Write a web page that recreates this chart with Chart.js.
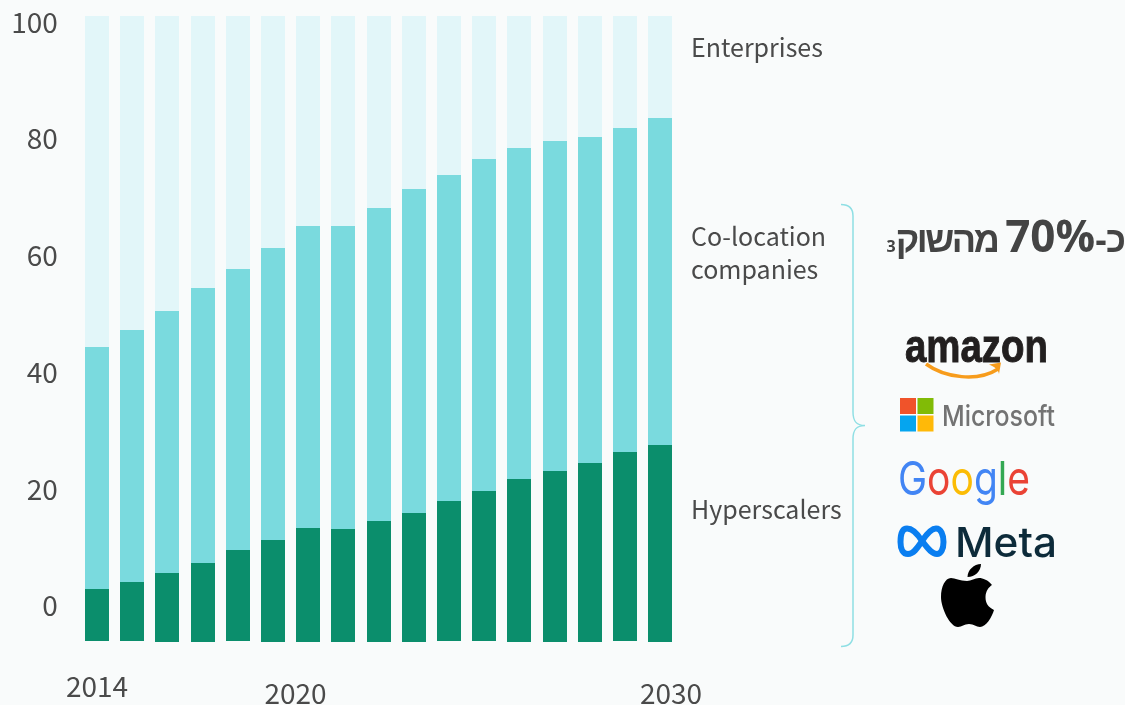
<!DOCTYPE html>
<html lang="en">
<head>
<meta charset="utf-8">
<script src="https://cdn.jsdelivr.net/npm/chart.js@4"></script>
<style>
html,body{margin:0;padding:0;background:#f9fbfb;width:1125px;height:705px;overflow:hidden}
#wrap{position:relative;width:1125px;height:705px;overflow:hidden}
canvas{position:absolute;left:0;top:0}
.lab{position:absolute;left:691px;font:400 25px/33px "Noto Sans CJK SC","Noto Sans",sans-serif;color:#4a4a4a;white-space:nowrap}
#heb{position:absolute;right:0;top:205px;font:700 44px/60px "Open Sans",sans-serif;color:#444;white-space:nowrap;direction:rtl}
#heb .he{font-family:"Liberation Sans",sans-serif;font-size:36px;letter-spacing:-2.4px}
#heb sub{font-family:"Open Sans",sans-serif;font-size:16px;line-height:0;vertical-align:0}
svg{position:absolute;left:0;top:0}
</style>
</head>
<body>
<div id="wrap">
<canvas id="c" width="1125" height="705"></canvas>
<svg width="1125" height="705" viewBox="0 0 1125 705">
  <path d="M841 204.500 C849 204.500 853 209 853 216 L853 412 C853 421 856 425.500 865 425.500 C856 425.500 853 430 853 439 L853 635 C853 642 849 646.500 841 646.500" fill="none" stroke="#8fdfe4" stroke-width="1.5"/>
  <text x="905" y="362" font-family="Liberation Sans" font-weight="700" font-size="47" fill="#221f1f" stroke="#221f1f" stroke-width="1" textLength="143" lengthAdjust="spacingAndGlyphs">amazon</text>
  <path d="M926 364 C945 378 978 382 998 369" fill="none" stroke="#f79c1c" stroke-width="3.5"/>
  <path d="M989 364.500 L1001 362.500 L999 374 C998.500 370 995 367 989 364.500Z" fill="#f79c1c"/>
  <rect x="900" y="398" width="16" height="16" fill="#f0532a"/><rect x="917.500" y="398" width="16" height="16" fill="#81bb06"/>
  <rect x="900" y="415.500" width="16" height="16" fill="#05a5ef"/><rect x="917.500" y="415.500" width="16" height="16" fill="#ffb908"/>
  <text x="942" y="426" font-family="Inter" font-weight="500" font-size="29" fill="#737373" textLength="113" lengthAdjust="spacingAndGlyphs">Microsoft</text>
  <text x="898" y="495" font-family="Inter" font-weight="400" font-size="47" textLength="132" lengthAdjust="spacingAndGlyphs"><tspan fill="#4285f4">G</tspan><tspan fill="#ea4335">o</tspan><tspan fill="#fbbc05">o</tspan><tspan fill="#4285f4">g</tspan><tspan fill="#34a853">l</tspan><tspan fill="#ea4335">e</tspan></text>
  <path d="M922 541 C917 533 912 528.500 907 528.500 C902 528.500 900.500 535 900.500 542 C900.500 549 903 554 908 554 C914 554 918 547 922 541 C926 535 931 528.500 936 528.500 C941 528.500 943.500 535 943.500 542 C943.500 549 941 554 937 554 C931 554 927 547 922 541Z" fill="none" stroke="#0a7ef0" stroke-width="6"/>
  <text x="955" y="557" font-family="Inter" font-weight="500" font-size="41" fill="#0d2b3a" textLength="102" lengthAdjust="spacingAndGlyphs">Meta</text>
  <path d="M967 581 C960 581 955 578 951 578 C945 578 941 587 941 597 C941 608 950 627 958 627 C962 627 964 624 969 624 C974 624 976 627 980 627 C986 627 992 617 994 610 C988 607 985.500 603 985.500 597 C985.500 591 989 587 992 585 C988 580 983 578 979 578 C975 578 971 581 967 581Z" fill="#000"/>
  <path d="M967.500 577 C967.500 570 974 564 981 564 C981 571 975 577 967.500 577Z" fill="#000"/>
</svg>
<div class="lab" style="top:30px">Enterprises</div>
<div class="lab" style="top:219px">Co-location<br>companies</div>
<div class="lab" style="top:492px">Hyperscalers</div>
<div id="heb"><span class="he" style="letter-spacing:-1px">כ-</span>70%<span class="he"> מהשוק</span><sub>3</sub></div>
</div>
<script>
const years = [2014,2015,2016,2017,2018,2019,2020,2021,2022,2023,2024,2025,2026,2027,2028,2029,2030];
const shownYears = [2014,2020,2030];
const yTicks = [0,20,40,60,80,100];
const seriesNames = ['Hyperscalers','Co-location companies','Enterprises'];
const barBottom = [-6.05,-6.05,-6.22,-6.22,-6.05,-6.22,-6.22,-6.22,-6.22,-6.22,-6.05,-6.05,-6.22,-6.22,-6.22,-6.05,-6.22];
const hyperscalersTop = [2.86,4.06,5.60,7.32,9.54,11.26,13.31,13.14,14.51,15.88,17.94,19.65,21.71,23.08,24.45,26.33,27.53];
const colocationTop = [44.32,47.23,50.49,54.43,57.69,61.28,65.05,65.05,68.14,71.39,73.79,76.53,78.42,79.62,80.30,81.84,83.55];
const enterprisesTop = [101.03,101.03,101.03,101.03,101.03,101.03,101.03,101.03,101.03,101.03,101.03,101.03,101.03,101.03,101.03,101.03,101.03];

const axisFont = {family:'"Noto Sans CJK SC","Noto Sans",sans-serif',size:28,weight:'400'};
const yearNudge = {2014:[0,-7],2020:[-12.6,0],2030:[11,0]};

const finishing = {
  id:'finishing',
  beforeDraw(chart){
    for(const it of chart.scales.x.getLabelItems()){
      const n = yearNudge[it.label];
      if(n && !it._done){
        it.options.translation[0]+=n[0];
        it.options.translation[1]+=n[1];
        it._done=true;
      }
    }
    chart.data.datasets.forEach((d,i)=>{
      for(const el of chart.getDatasetMeta(i).data){
        el.x=Math.round(el.x+0.1);
        el.y=Math.round(el.y);
        el.base=Math.round(el.base);
        el.width=24;
      }
    });
  }
};

new Chart(document.getElementById('c'),{
  type:'bar',
  data:{
    labels:years,
    datasets:[
      {label:seriesNames[0],data:years.map((_,i)=>[barBottom[i],hyperscalersTop[i]]),backgroundColor:'#0b8e6c'},
      {label:seriesNames[1],data:years.map((_,i)=>[hyperscalersTop[i],colocationTop[i]]),backgroundColor:'#7adade'},
      {label:seriesNames[2],data:years.map((_,i)=>[colocationTop[i],enterprisesTop[i]]),backgroundColor:'#e2f6f9'}
    ]
  },
  options:{
    responsive:false,animation:false,devicePixelRatio:1,
    layout:{padding:{top:16,right:447.4,left:0,bottom:0}},
    plugins:{legend:{display:false},tooltip:{enabled:false}},
    datasets:{bar:{grouped:false,barPercentage:0.682,categoryPercentage:1,borderSkipped:false,borderWidth:0}},
    scales:{
      x:{
        grid:{display:false,drawTicks:false,tickLength:0},border:{display:false},
        afterFit(s){s.height=63;s.paddingLeft=0;s.paddingRight=0},
        ticks:{autoSkip:false,maxRotation:0,minRotation:0,color:'#4a4a4a',font:axisFont,padding:34.5,
          callback(v){const y=this.getLabelForValue(v);return shownYears.includes(+y)?String(y):''}}
      },
      y:{
        min:-6.22,max:101.03,
        grid:{display:false,drawTicks:false,tickLength:0},border:{display:false},
        afterFit(s){s.width=79.4;s.paddingTop=0;s.paddingBottom=0},
        afterBuildTicks(s){s.ticks=yTicks.map(v=>({value:v}))},
        ticks:{color:'#4a4a4a',font:axisFont,padding:21.5}
      }
    }
  },
  plugins:[finishing]
});
</script>
</body>
</html>
